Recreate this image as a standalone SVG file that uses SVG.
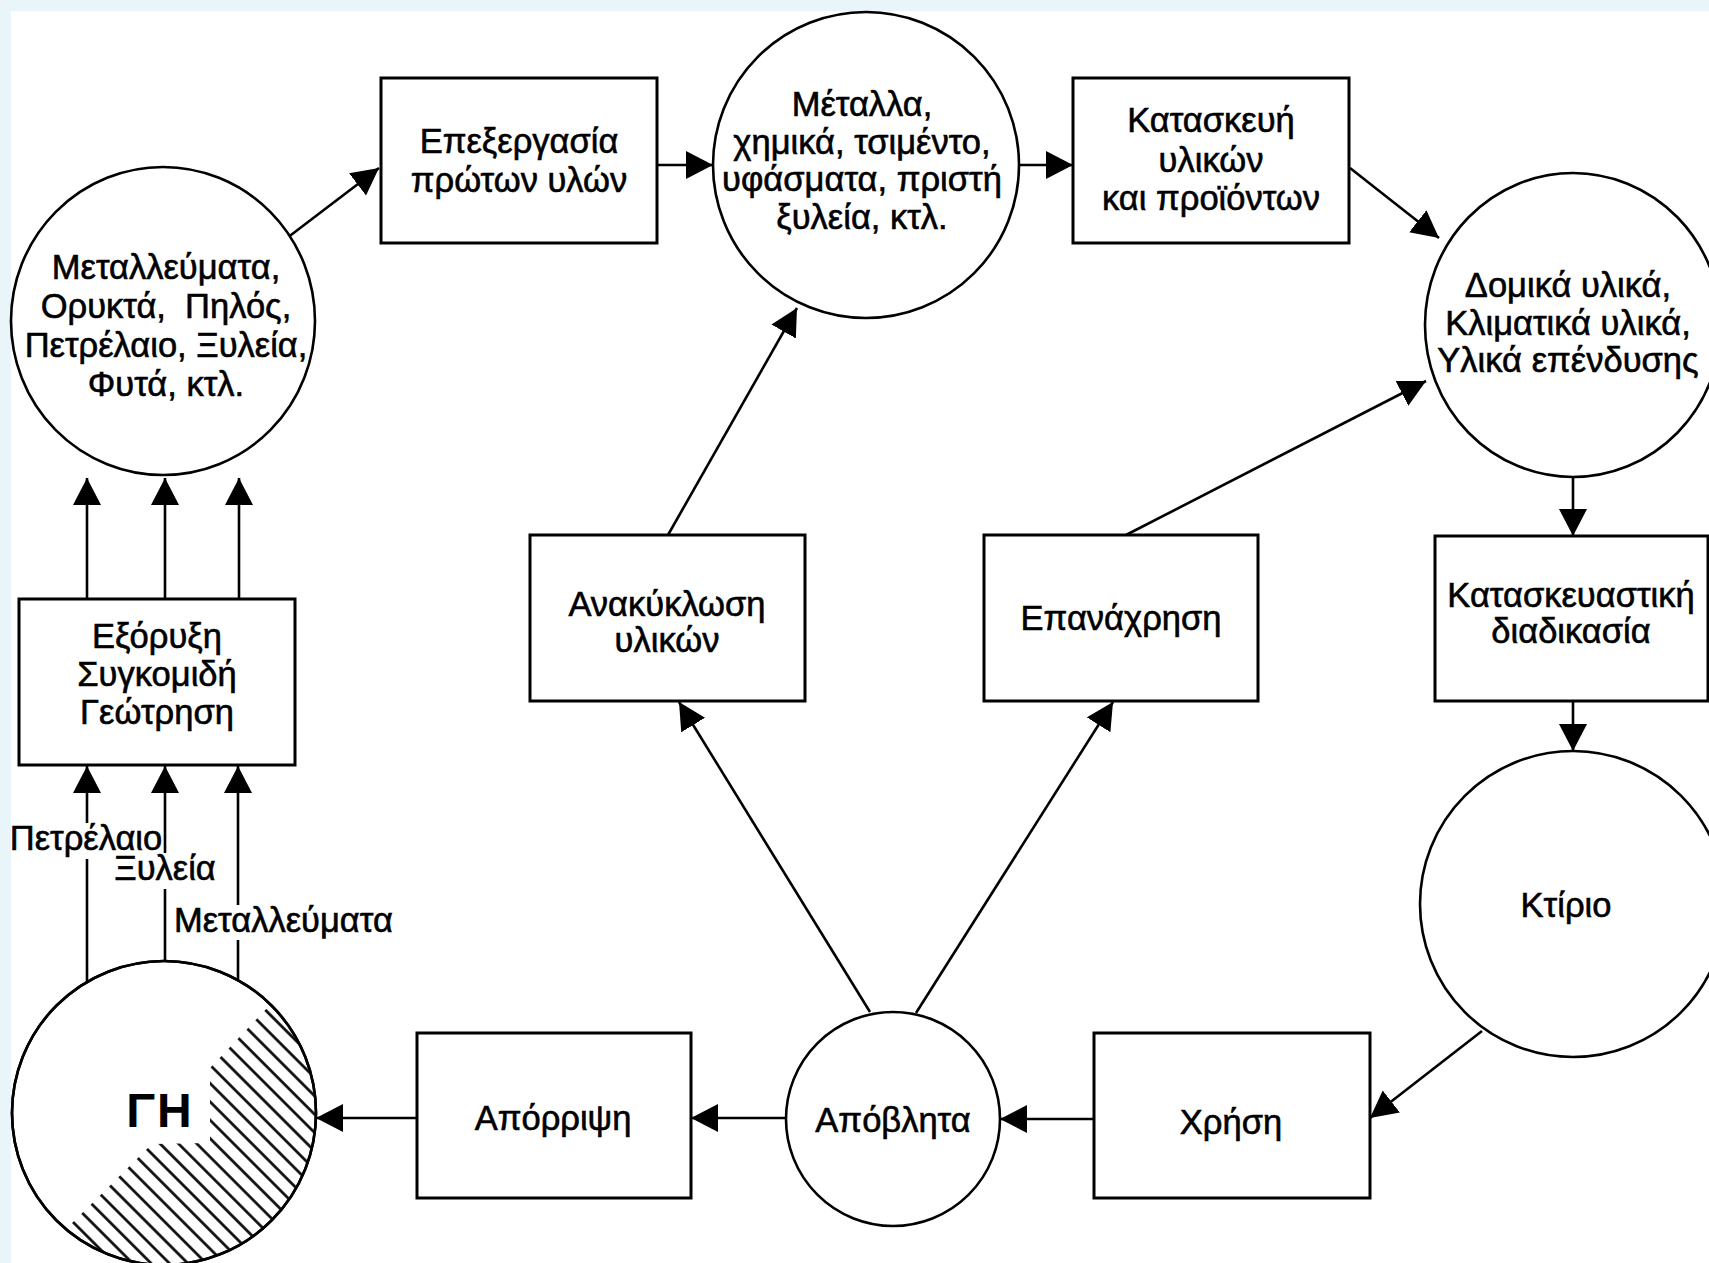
<svg xmlns="http://www.w3.org/2000/svg" width="1709" height="1263" viewBox="0 0 1709 1263">
<style>
.box{fill:#fff;stroke:#000;stroke-width:3}
.ell{fill:#fff;stroke:#000;stroke-width:2.6}
.t{font-family:"Liberation Sans",Arial,sans-serif;font-size:34.5px;fill:#000;stroke:#000;stroke-width:0.6;text-anchor:middle}
.ts{font-family:"Liberation Sans",Arial,sans-serif;font-size:34.5px;fill:#000;stroke:#000;stroke-width:0.6;text-anchor:start}
.c{stroke:#000;stroke-width:2.6;fill:none;marker-end:url(#ah)}
.bg{fill:#fff}
</style>
<defs>
<marker id="ah" markerUnits="userSpaceOnUse" markerWidth="30" markerHeight="30" refX="27" refY="14" orient="auto">
<path d="M0,0 L27,14 L0,28 Z" fill="#000"/>
</marker>
<pattern id="hatch" patternUnits="userSpaceOnUse" width="13" height="13" patternTransform="rotate(45)">
<line x1="-2" y1="6.5" x2="15" y2="6.5" stroke="#000" stroke-width="2.6"/>
</pattern>
<clipPath id="earthClip">
<circle cx="164" cy="1113" r="151"/>
</clipPath>
</defs>
<rect x="0" y="0" width="1709" height="1263" fill="#fff"/>
<rect x="0" y="0" width="1709" height="11" fill="#e9f5f9"/>
<rect x="0" y="0" width="11" height="1263" fill="#e9f5f9"/>

<g id="connectors">
<line class="c" x1="287" y1="238" x2="379" y2="168"/>
<line class="c" x1="657" y1="165" x2="713" y2="165"/>
<line class="c" x1="1019" y1="165" x2="1073" y2="165"/>
<line class="c" x1="1350" y1="168" x2="1439" y2="238"/>
<line class="c" x1="1573" y1="477" x2="1573" y2="536"/>
<line class="c" x1="1573" y1="701" x2="1573" y2="751"/>
<line class="c" x1="1482" y1="1031" x2="1370" y2="1118"/>
<line class="c" x1="1094" y1="1119" x2="1000" y2="1119"/>
<line class="c" x1="786" y1="1118" x2="691" y2="1118"/>
<line class="c" x1="417" y1="1118" x2="316" y2="1118"/>
<line class="c" x1="870" y1="1012" x2="679" y2="702"/>
<line class="c" x1="916" y1="1013" x2="1113" y2="702"/>
<line class="c" x1="668" y1="535" x2="797" y2="308"/>
<line class="c" x1="1126" y1="535" x2="1426" y2="381"/>
<line class="c" x1="87" y1="599" x2="87" y2="478"/>
<line class="c" x1="165" y1="599" x2="165" y2="478"/>
<line class="c" x1="239" y1="599" x2="239" y2="478"/>
<line class="c" x1="87" y1="982" x2="87" y2="766"/>
<line class="c" x1="165" y1="961" x2="165" y2="766"/>
<line class="c" x1="238" y1="979" x2="238" y2="766"/>
<rect class="bg" x="11" y="823" width="149" height="36"/>
<rect class="bg" x="115" y="853" width="99" height="36"/>
<rect class="bg" x="172" y="905" width="218" height="35"/>
<text class="t" x="86" y="850">Πετρέλαιο</text>
<text class="t" x="165" y="880">Ξυλεία</text>
<text class="ts" x="174" y="932">Μεταλλεύματα</text>
</g>

<g id="raw-materials">
<ellipse class="ell" cx="163" cy="321" rx="152" ry="154"/>
<text class="t" x="166" y="279">Μεταλλεύματα,</text>
<text class="t" x="166" y="318">Ορυκτά,&#160; Πηλός,</text>
<text class="t" x="166" y="357">Πετρέλαιο, Ξυλεία,</text>
<text class="t" x="166" y="396">Φυτά, κτλ.</text>
</g>

<g id="processing">
<rect class="box" x="381" y="78" width="276" height="165"/>
<text class="t" x="519" y="153">Επεξεργασία</text>
<text class="t" x="519" y="192">πρώτων υλών</text>
</g>

<g id="metals">
<ellipse class="ell" cx="866" cy="165" rx="153" ry="153"/>
<text class="t" x="862" y="116">Μέταλλα,</text>
<text class="t" x="862" y="154">χημικά, τσιμέντο,</text>
<text class="t" x="862" y="191">υφάσματα, πριστή</text>
<text class="t" x="862" y="229">ξυλεία, κτλ.</text>
</g>

<g id="manufacture">
<rect class="box" x="1073" y="78" width="276" height="165"/>
<text class="t" x="1211" y="132">Κατασκευή</text>
<text class="t" x="1211" y="172">υλικών</text>
<text class="t" x="1211" y="210">και προϊόντων</text>
</g>

<g id="building-materials">
<ellipse class="ell" cx="1573" cy="325" rx="148" ry="152"/>
<text class="t" x="1568" y="297">Δομικά υλικά,</text>
<text class="t" x="1568" y="335">Κλιματικά υλικά,</text>
<text class="t" x="1568" y="372">Υλικά επένδυσης</text>
</g>

<g id="construction">
<rect class="box" x="1435" y="536" width="273" height="165"/>
<text class="t" x="1571" y="607">Κατασκευαστική</text>
<text class="t" x="1571" y="643">διαδικασία</text>
</g>

<g id="building">
<ellipse class="ell" cx="1573" cy="904" rx="153" ry="153"/>
<text class="t" x="1566" y="917">Κτίριο</text>
</g>

<g id="use">
<rect class="box" x="1094" y="1033" width="276" height="165"/>
<text class="t" x="1231" y="1134">Χρήση</text>
</g>

<g id="waste">
<ellipse class="ell" cx="893" cy="1119" rx="107" ry="107"/>
<text class="t" x="893" y="1132">Απόβλητα</text>
</g>

<g id="disposal">
<rect class="box" x="417" y="1033" width="274" height="165"/>
<text class="t" x="553" y="1130">Απόρριψη</text>
</g>

<g id="earth">
<circle class="ell" cx="164" cy="1113" r="152"/>
<path d="M315,958 L270,1005 L210,1068 L210,1143 L152,1144 L67,1228 L30,1300 L420,1300 L420,958 Z" fill="url(#hatch)" clip-path="url(#earthClip)"/>
<circle cx="164" cy="1113" r="152" fill="none" stroke="#000" stroke-width="2.6"/>
<text x="160" y="1127" font-family="Liberation Sans,Arial,sans-serif" font-size="48" font-weight="bold" letter-spacing="2" text-anchor="middle">ΓΗ</text>
</g>

<g id="extraction">
<rect class="box" x="19" y="599" width="276" height="166"/>
<text class="t" x="157" y="648">Εξόρυξη</text>
<text class="t" x="157" y="686">Συγκομιδή</text>
<text class="t" x="157" y="724">Γεώτρηση</text>
</g>

<g id="recycling">
<rect class="box" x="530" y="535" width="275" height="166"/>
<text class="t" x="667" y="616">Ανακύκλωση</text>
<text class="t" x="667" y="652">υλικών</text>
</g>

<g id="reuse">
<rect class="box" x="984" y="535" width="274" height="166"/>
<text class="t" x="1121" y="630">Επανάχρηση</text>
</g>
</svg>
